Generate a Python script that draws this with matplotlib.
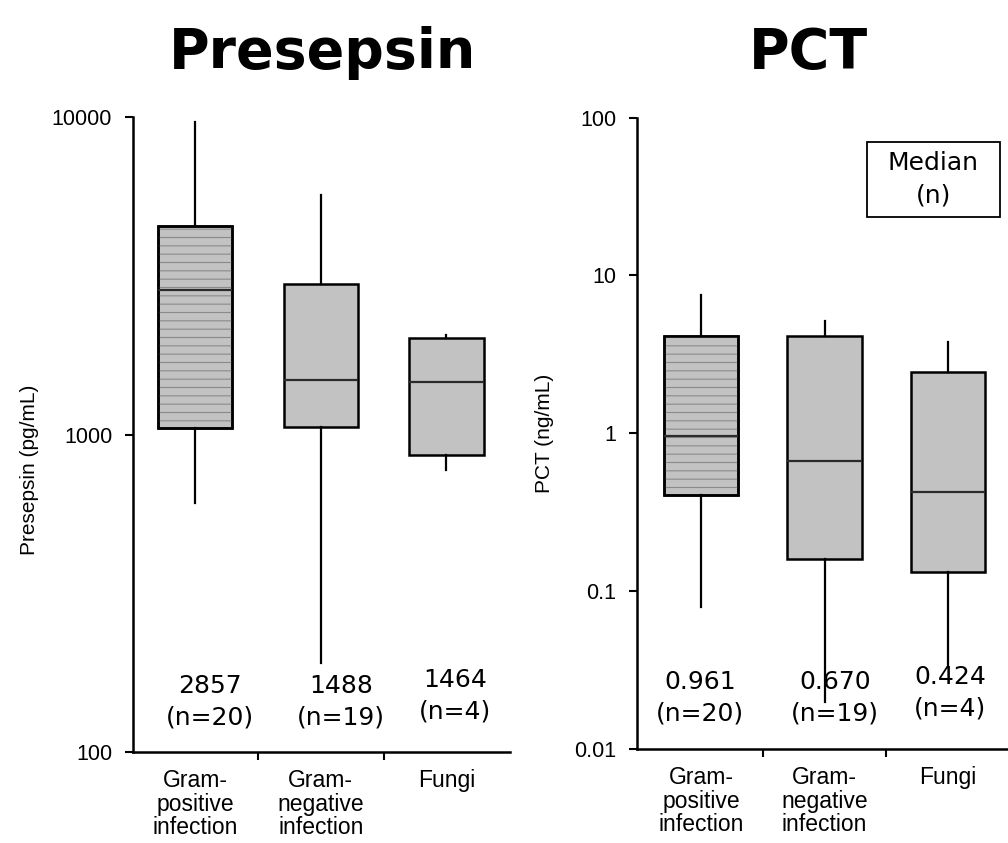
"""
Presepsin and PCT by infection type (box plots on log scale)
"""
import matplotlib
matplotlib.use('Agg')
import matplotlib.pyplot as plt
from matplotlib.patches import PathPatch, Rectangle

plt.rcParams['font.family'] = 'Liberation Sans'
plt.rcParams['hatch.linewidth'] = 0.8

groups = ['Gram-\npositive\ninfection', 'Gram-\nnegative\ninfection', 'Fungi']
n_cases = [20, 19, 4]

# presepsin (pg/mL)
presepsin_med = [2857, 1488, 1464]
presepsin_q1 = [1048, 1058, 861]
presepsin_q3 = [4540, 2972, 2013]
presepsin_lo = [608, 191, 773]
presepsin_hi = [9658, 5680, 2056]

# PCT (ng/mL)
pct_med = [0.961, 0.670, 0.424]
pct_q1 = [0.409, 0.159, 0.132]
pct_q3 = [4.12, 4.12, 2.46]
pct_lo = [0.0789, 0.0198, 0.033]
pct_hi = [7.5, 5.13, 3.79]

FILL = '#c2c2c2'
NUM_FONT = 'DejaVu Sans'


def draw_panel(ax, med, q1, q3, lo, hi, fmt, xlim, ylim, yticks, yticklabels,
               label_dx, label_y, width):
    stats = []
    for i in range(len(med)):
        stats.append(dict(med=med[i], q1=q1[i], q3=q3[i],
                          whislo=lo[i], whishi=hi[i], fliers=[]))
    res = ax.bxp(stats, positions=range(len(med)), widths=width,
                 patch_artist=True, showcaps=False, showfliers=False,
                 boxprops=dict(facecolor=FILL, edgecolor='black', linewidth=1.8),
                 whiskerprops=dict(color='black', linewidth=1.6),
                 medianprops=dict(color='#2a2a2a', linewidth=1.6))
    # horizontal line pattern for the gram-positive group
    box = res['boxes'][0]
    ax.add_patch(PathPatch(box.get_path(), transform=box.get_transform(),
                           facecolor='none', edgecolor='#8a8a8a', lw=0,
                           hatch='--', zorder=box.get_zorder() + 0.01))
    ax.add_patch(PathPatch(box.get_path(), transform=box.get_transform(),
                           facecolor='none', edgecolor='black', lw=1.8,
                           zorder=box.get_zorder() + 0.02))

    # median and group size under each box
    for i in range(len(med)):
        ax.text(i + label_dx[i], label_y[i], f"{fmt(med[i])}\n(n={n_cases[i]})",
                transform=ax.get_xaxis_transform(), ha='center', va='center',
                fontsize=18, family=NUM_FONT, linespacing=1.4)

    ax.set_yscale('log')
    ax.set_xlim(*xlim)
    ax.set_ylim(*ylim)
    ax.set_yticks(yticks)
    ax.set_yticklabels(yticklabels)
    ax.yaxis.set_minor_locator(plt.NullLocator())
    ax.set_xticks(range(len(groups)))
    ax.set_xticklabels(groups, linespacing=1.05)
    ax.set_xticks([0.5, 1.5], minor=True)
    ax.tick_params(axis='x', which='major', length=0, pad=12, labelsize=16.5)
    ax.tick_params(axis='x', which='minor', length=6, width=1.5, direction='out')
    ax.tick_params(axis='y', which='major', length=6, width=1.5, pad=9,
                   labelsize=15.5)
    for side in ['top', 'right']:
        ax.spines[side].set_visible(False)
    for side in ['left', 'bottom']:
        ax.spines[side].set_linewidth(1.8)


fig = plt.figure(figsize=(10.08, 8.43), dpi=100)

ax1 = fig.add_axes([0.132, 0.108, 0.374, 0.753])
draw_panel(ax1, presepsin_med, presepsin_q1, presepsin_q3, presepsin_lo,
           presepsin_hi, lambda v: f"{v:d}", (-0.494, 2.506), (100, 10000),
           [100, 1000, 10000], ['100', '1000', '10000'],
           [0.12, 0.163, 0.07], [0.079, 0.079, 0.088], 0.59)

ax2 = fig.add_axes([0.632, 0.1115, 0.368, 0.749])
draw_panel(ax2, pct_med, pct_q1, pct_q3, pct_lo, pct_hi,
           lambda v: f"{v:.3f}", (-0.518, 2.486), (0.01, 100),
           [0.01, 0.1, 1, 10, 100], ['0.01', '0.1', '1', '10', '100'],
           [-0.01, 0.085, 0.016], [0.0815, 0.0815, 0.0895], 0.60)

# key box
ax2.add_patch(Rectangle((0.62, 0.842), 0.358, 0.119, transform=ax2.transAxes,
                        facecolor='white', edgecolor='black', lw=1.3,
                        clip_on=False))
ax2.text(0.799, 0.902, 'Median\n(n)', transform=ax2.transAxes, ha='center',
         va='center', fontsize=18, family=NUM_FONT, linespacing=1.45)

fig.text(30 / 1008, 1 - 470 / 843, 'Presepsin (pg/mL)', rotation=90,
         ha='center', va='center', fontsize=15)
fig.text(545 / 1008, 1 - 433 / 843, 'PCT (ng/mL)', rotation=90,
         ha='center', va='center', fontsize=15)

fig.text(323 / 1008, 1 - 68 / 843, 'Presepsin', ha='center', va='baseline',
         fontsize=40, fontweight='bold', family=NUM_FONT)
fig.text(808 / 1008, 1 - 68 / 843, 'PCT', ha='center', va='baseline',
         fontsize=40, fontweight='bold', family=NUM_FONT)

fig.savefig('out.png', dpi=100)
plt.close(fig)
